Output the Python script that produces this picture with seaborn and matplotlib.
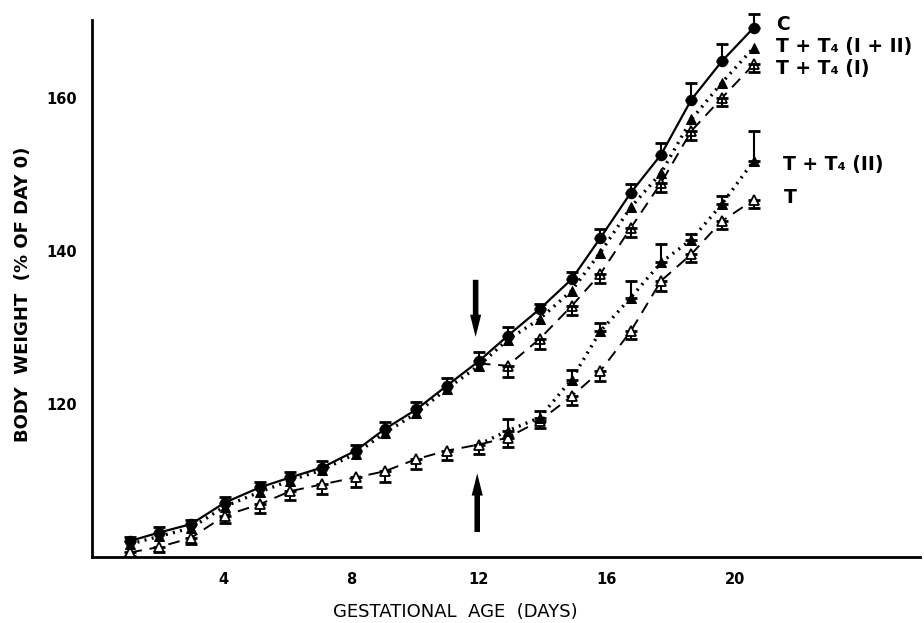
import numpy as np
import pandas as pd
import matplotlib
matplotlib.use("Agg")
import matplotlib.pyplot as plt
import seaborn as sns

# ---- data ----
days = [1.1, 2.0, 3.0, 4.05, 5.15, 6.1, 7.1, 8.15, 9.05, 10.05, 11.0,
        12.0, 12.9, 13.9, 14.9, 15.8, 16.75, 17.7, 18.65, 19.6, 20.6]

c_vals = [102.1, 103.2, 104.3, 107.1, 109.1, 110.4, 111.7, 113.9, 116.7, 119.3, 122.4,
          125.6, 128.9, 132.4, 136.3, 141.7, 147.6, 152.6, 159.8, 164.8, 169.2]
c_err = [0.5, 0.7, 0.6, 0.7, 0.7, 0.7, 0.8, 0.7, 1.0, 1.0, 1.0,
         1.2, 1.2, 0.7, 1.0, 1.2, 1.2, 1.5, 2.2, 2.2, 1.8]

i12_vals = [101.7, 102.7, 103.8, 106.6, 108.5, 110.0, 111.4, 113.5, 116.2, 118.8, 122.0,
            125.0, 128.4, 131.1, 134.8, 139.8, 145.7, 150.2, 157.2, 162.0, 166.6]

# T + T4 (I): follows control group to day 12, then diverges
i_days = days[11:]
i_vals = [125.3, 125.0, 128.5, 132.8, 137.0, 143.0, 148.9, 155.7, 160.0, 164.4]
i_err = [0.0, 1.5, 1.3, 1.2, 1.2, 1.2, 1.2, 1.2, 1.1, 1.0]

# T + T4 (II): follows T group to day 12, then rises
ii_days = days[11:]
ii_vals = [114.7, 116.5, 118.2, 123.2, 129.5, 133.9, 138.5, 141.5, 146.1, 151.8]
ii_err = [0.0, 1.5, 0.9, 1.3, 1.1, 2.2, 2.4, 0.7, 1.1, 3.9]

t_vals = [100.6, 101.3, 102.5, 105.4, 106.9, 108.6, 109.5, 110.4, 111.2, 112.8, 113.9,
          114.7, 115.6, 117.8, 121.0, 124.3, 129.5, 136.1, 139.6, 143.9, 146.7]
t_err = [0.5, 0.7, 0.8, 1.0, 1.2, 1.2, 1.2, 1.2, 1.4, 1.3, 1.2,
         1.2, 1.2, 1.0, 1.1, 1.3, 1.0, 1.3, 1.1, 1.0, 1.1]

labels = ["C", "T + T\u2084 (I + II)", "T + T\u2084 (I)", "T + T\u2084 (II)", "T"]

# ---- figure ----
sns.set_style("white")
plt.rcParams["font.family"] = ["DejaVu Sans"]
plt.rcParams["text.color"] = "black"
fig = plt.figure(figsize=(9.24, 6.23), dpi=100)
ax = fig.add_axes([92 / 924, 1 - 557 / 623, 828 / 924, (557 - 20) / 623])

frames = {
    "C": pd.DataFrame({"day": days, "bw": c_vals}),
    "I12": pd.DataFrame({"day": days, "bw": i12_vals}),
    "I": pd.DataFrame({"day": i_days, "bw": i_vals}),
    "II": pd.DataFrame({"day": ii_days, "bw": ii_vals}),
    "T": pd.DataFrame({"day": days, "bw": t_vals}),
}

k = "black"
ms = 7.5
# T (open triangles, dashed)
sns.lineplot(data=frames["T"], x="day", y="bw", ax=ax, color=k, lw=1.4,
             linestyle=(0, (6, 4)), marker="^", markersize=ms,
             markerfacecolor="white", markeredgecolor=k, markeredgewidth=1.3, zorder=3)
ax.errorbar(days, t_vals, yerr=[t_err, [0] * len(t_err)], fmt="none", ecolor=k,
            elinewidth=1.5, capsize=4, capthick=2, zorder=2)

# T+T4 (II) (filled triangles, dotted)
sns.lineplot(data=frames["II"], x="day", y="bw", ax=ax, color=k, lw=2.4,
             linestyle=(0, (0.6, 1.6)), marker="^", markersize=ms,
             markevery=list(range(1, len(ii_vals))), markeredgecolor=k,
             markerfacecolor=k, zorder=4)
ax.errorbar(ii_days[1:], ii_vals[1:], yerr=[[0] * 9, ii_err[1:]], fmt="none",
            ecolor=k, elinewidth=1.5, capsize=4, capthick=2, zorder=4)

# T+T4 (I) (open triangles, dashed)
sns.lineplot(data=frames["I"], x="day", y="bw", ax=ax, color=k, lw=1.4,
             linestyle=(0, (6, 4)), marker="^", markersize=ms,
             markevery=list(range(1, len(i_vals))), markerfacecolor="white",
             markeredgecolor=k, markeredgewidth=1.3, zorder=5)
ax.errorbar(i_days[1:], i_vals[1:], yerr=[i_err[1:], [0] * 9], fmt="none",
            ecolor=k, elinewidth=1.5, capsize=4, capthick=2, zorder=5)

# T+T4 (I+II) (filled triangles, dotted)
sns.lineplot(data=frames["I12"], x="day", y="bw", ax=ax, color=k, lw=2.4,
             linestyle=(0, (0.6, 1.6)), marker="^", markersize=ms,
             markeredgecolor=k, markerfacecolor=k, zorder=6)

# C (filled circles, solid)
sns.lineplot(data=frames["C"], x="day", y="bw", ax=ax, color=k, lw=1.6,
             marker="o", markersize=ms, markeredgecolor=k, markerfacecolor=k, zorder=7)
ax.errorbar(days, c_vals, yerr=[[0] * len(c_err), c_err], fmt="none", ecolor=k,
            elinewidth=1.5, capsize=4, capthick=2, zorder=7)

for ln in ax.lines:
    ln.set_clip_on(False)
for coll in ax.collections:
    coll.set_clip_on(False)

# arrows marking day 12
astyle = "simple,head_width=0.8,head_length=1.6,tail_width=0.4"
ax.annotate("", xy=(11.9, 128.4), xytext=(11.9, 136.6),
            arrowprops=dict(arrowstyle=astyle, color=k, lw=0))
ax.annotate("", xy=(11.95, 111.3), xytext=(11.95, 102.9),
            arrowprops=dict(arrowstyle=astyle, color=k, lw=0))

# series labels
lab_pos = [(21.3, 169.6), (21.3, 166.7), (21.3, 163.8), (21.5, 151.3), (21.55, 147.0)]
for txt, (xx, yy) in zip(labels, lab_pos):
    ax.text(xx, yy, txt, fontsize=13.5, fontweight="bold", ha="left", va="center",
            color=k, clip_on=False)

# axes
ax.set_xlim(-0.1, 25.8)
ax.set_ylim(100, 170.2)
ax.set_xticks([4, 8, 12, 16, 20])
ax.set_yticks([110, 120, 130, 140, 150, 160])
ax.set_yticklabels(["", "120", "", "140", "", "160"])
ax.tick_params(axis="both", direction="out", length=7, width=1.3, labelsize=10.5,
               color=k, labelcolor=k)
for lab in ax.get_xticklabels() + ax.get_yticklabels():
    lab.set_fontweight("bold")
for s in ["top", "right"]:
    ax.spines[s].set_visible(False)
for s in ["left", "bottom"]:
    ax.spines[s].set_color(k)
    ax.spines[s].set_linewidth(2)

ax.set_xlabel("GESTATIONAL  AGE  (DAYS)", fontsize=13, color=k)
ax.set_ylabel("BODY  WEIGHT  (% OF DAY 0)", fontsize=13, color=k, fontweight="bold")
ax.xaxis.set_label_coords((455 - 92) / 828, -0.085)
ax.yaxis.set_label_coords(-0.072, 0.49)
ax.grid(False)

fig.savefig("out.png", dpi=100)
